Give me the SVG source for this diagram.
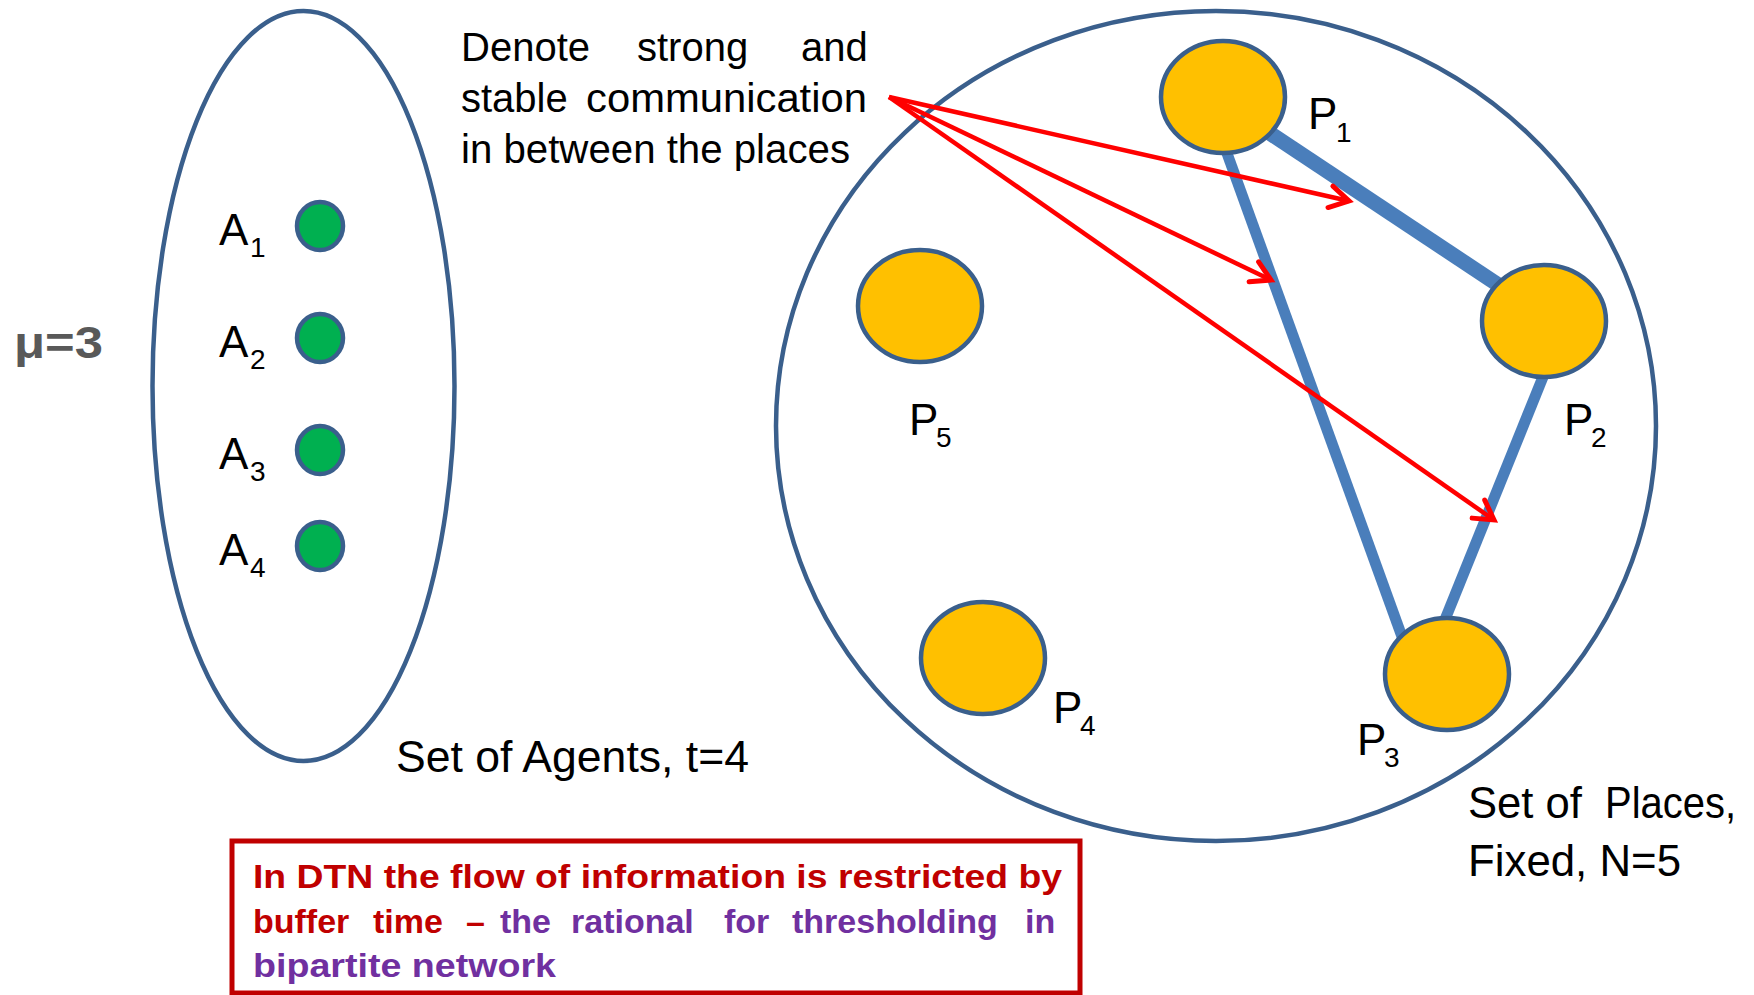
<svg xmlns="http://www.w3.org/2000/svg" width="1754" height="995" viewBox="0 0 1754 995">
<style>
  .set { fill: none; stroke: #3A5F8C; stroke-width: 4.5; }
  .agent { fill: #00B050; stroke: #3A5F8C; stroke-width: 4.5; }
  .place { fill: #FFC000; stroke: #3A5F8C; stroke-width: 4.5; }
  .edge { stroke: #4A7EBB; fill: none; }
  .arrow { stroke: #FF0000; stroke-width: 4.5; fill: none; marker-end: url(#arrowhead); }
  .lbl { font-family: "Liberation Sans", Arial, sans-serif; font-size: 44px; fill: #000; }
  .sub { font-family: "Liberation Sans", Arial, sans-serif; font-size: 28px; fill: #000; }
  .note { font-family: "Liberation Sans", Arial, sans-serif; font-size: 40px; fill: #000; }
  .box { font-family: "Liberation Sans", Arial, sans-serif; font-size: 34px; font-weight: bold; }
  .red { fill: #C00000; }
  .purple { fill: #7030A0; }
</style>
<defs>
  <marker id="arrowhead" markerUnits="userSpaceOnUse" markerWidth="30" markerHeight="30" refX="24" refY="15" orient="auto">
    <path d="M5,4 L24,15 L5,26" fill="none" stroke="#FF0000" stroke-width="5" stroke-linecap="round"/>
  </marker>
</defs>
<rect width="1754" height="995" fill="#FFFFFF"/>

<g id="mu-label">
  <text x="14" y="358" font-family="Liberation Sans, Arial, sans-serif" font-size="44" font-weight="bold" fill="#595959" textLength="89" lengthAdjust="spacingAndGlyphs">μ=3</text>
</g>

<g id="agents-set">
  <ellipse class="set" cx="303.5" cy="386" rx="151" ry="375"/>
  <text class="lbl" x="396" y="772" textLength="353" lengthAdjust="spacingAndGlyphs">Set of Agents, t=4</text>
</g>

<g id="agent-A1">
  <ellipse class="agent" cx="320" cy="226" rx="23" ry="24"/>
  <text class="lbl" x="219" y="245">A</text><text class="sub" x="250" y="257">1</text>
</g>
<g id="agent-A2">
  <ellipse class="agent" cx="320" cy="338" rx="23" ry="24"/>
  <text class="lbl" x="219" y="357">A</text><text class="sub" x="250" y="369">2</text>
</g>
<g id="agent-A3">
  <ellipse class="agent" cx="320" cy="450" rx="23" ry="24"/>
  <text class="lbl" x="219" y="469">A</text><text class="sub" x="250" y="481">3</text>
</g>
<g id="agent-A4">
  <ellipse class="agent" cx="320" cy="546" rx="23" ry="24"/>
  <text class="lbl" x="219" y="565">A</text><text class="sub" x="250" y="577">4</text>
</g>

<g id="places-set">
  <ellipse class="set" cx="1216" cy="426" rx="440" ry="415"/>
  <text class="lbl" x="1468" y="818" textLength="114" lengthAdjust="spacingAndGlyphs">Set of</text>
  <text class="lbl" x="1605" y="818" textLength="131" lengthAdjust="spacingAndGlyphs">Places,</text>
  <text class="lbl" x="1468" y="876" textLength="213" lengthAdjust="spacingAndGlyphs">Fixed, N=5</text>
</g>

<g id="connectors">
  <line class="edge" x1="1262" y1="128" x2="1506" y2="290" stroke-width="15"/>
  <line class="edge" x1="1224" y1="145" x2="1405" y2="645" stroke-width="11"/>
  <line class="edge" x1="1547" y1="367" x2="1442" y2="627" stroke-width="11"/>
  <line class="arrow" x1="889" y1="97" x2="1349" y2="201" stroke-width="5"/>
  <line class="arrow" x1="889" y1="97" x2="1271" y2="280"/>
  <line class="arrow" x1="889" y1="97" x2="1494" y2="520"/>
</g>

<g id="place-P1">
  <ellipse class="place" cx="1223" cy="97" rx="62" ry="56"/>
  <text class="lbl" x="1308" y="129">P</text><text class="sub" x="1336" y="142">1</text>
</g>
<g id="place-P2">
  <ellipse class="place" cx="1544" cy="321" rx="62" ry="56"/>
  <text class="lbl" x="1564" y="435">P</text><text class="sub" x="1591" y="447">2</text>
</g>
<g id="place-P3">
  <ellipse class="place" cx="1447" cy="674" rx="62" ry="56"/>
  <text class="lbl" x="1357" y="755">P</text><text class="sub" x="1384" y="767">3</text>
</g>
<g id="place-P4">
  <ellipse class="place" cx="983" cy="658" rx="62" ry="56"/>
  <text class="lbl" x="1053" y="723">P</text><text class="sub" x="1080" y="735">4</text>
</g>
<g id="place-P5">
  <ellipse class="place" cx="920" cy="306" rx="62" ry="56"/>
  <text class="lbl" x="909" y="435">P</text><text class="sub" x="936" y="447">5</text>
</g>

<g id="annotation">
  <text class="note" x="461" y="61">Denote</text>
  <text class="note" x="637" y="61">strong</text>
  <text class="note" x="801" y="61">and</text>
  <text class="note" x="461" y="112">stable</text>
  <text class="note" x="586" y="112" textLength="281" lengthAdjust="spacingAndGlyphs">communication</text>
  <text class="note" x="461" y="163" textLength="389" lengthAdjust="spacingAndGlyphs">in between the places</text>
</g>

<g id="note-box">
  <rect x="232" y="841" width="848" height="152" fill="none" stroke="#C00000" stroke-width="5"/>
  <text class="box red" x="253" y="888" textLength="809" lengthAdjust="spacingAndGlyphs">In DTN the flow of information is restricted by</text>
  <text class="box" y="933">
    <tspan class="red" x="253">buffer</tspan>
    <tspan class="red" x="373">time</tspan>
    <tspan class="red" x="466">–</tspan>
    <tspan class="purple" x="500">the</tspan>
    <tspan class="purple" x="571">rational</tspan>
    <tspan class="purple" x="724">for</tspan>
    <tspan class="purple" x="792">thresholding</tspan>
    <tspan class="purple" x="1025">in</tspan>
  </text>
  <text class="box purple" x="253" y="977" textLength="303" lengthAdjust="spacingAndGlyphs">bipartite network</text>
</g>
</svg>
